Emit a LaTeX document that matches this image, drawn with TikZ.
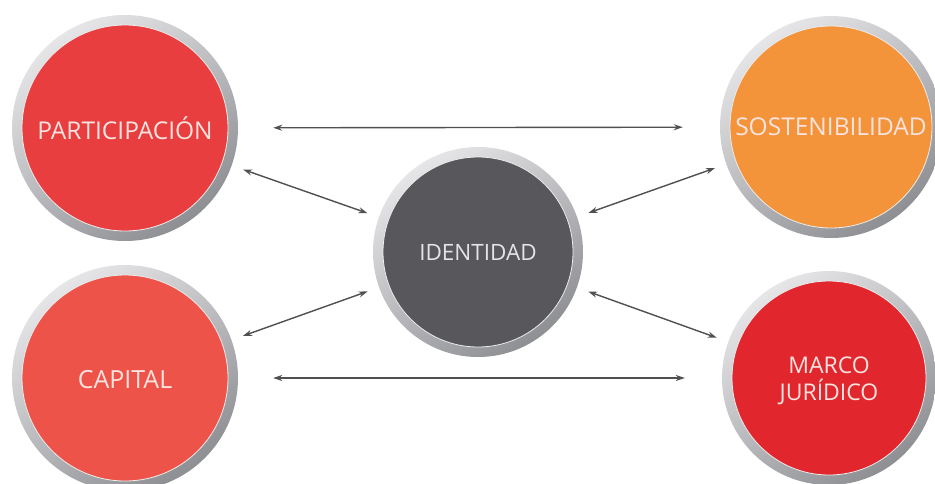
\documentclass[tikz,border=0pt]{standalone}
\usepackage{fontspec}
\newfontfamily\labfont{Open Sans}
\usetikzlibrary{arrows.meta}
\definecolor{cPart}{HTML}{E83E3F}
\definecolor{cCap}{HTML}{EE5349}
\definecolor{cSost}{HTML}{F3933A}
\definecolor{cMarco}{HTML}{E1272D}
\definecolor{cIdent}{HTML}{58585C}
\definecolor{ringlight}{HTML}{E6E6E8}
\definecolor{ringdark}{HTML}{8E8F93}
\definecolor{txtpink}{HTML}{FBE3DF}
\definecolor{txtgray}{HTML}{E4E4E6}
\definecolor{arrowgray}{HTML}{505053}
\begin{document}
\begin{tikzpicture}[x=1pt,y=-1pt,
  ring/.style={circle, inner sep=0pt, draw=none, top color=ringlight, bottom color=ringdark, shading angle=35},
  disc/.style={draw=white!85!gray, line width=0.8pt},
  lab/.style={font=\labfont\fontsize{24.5}{27}\selectfont, align=center, text=txtpink},
  arr/.style={draw=arrowgray, line width=1.4pt, {Stealth[length=9pt,width=6pt]}-{Stealth[length=9pt,width=6pt]}}
]
\useasboundingbox (0,0) rectangle (935,483);
\fill[white] (0,0) rectangle (935,483);

% rings
\node[ring, minimum size=226pt] (P) at (125,128) {};
\node[ring, minimum size=226pt] (C) at (125,378) {};
\node[ring, minimum size=214pt] (M) at (829,378) {};
\node[ring, minimum size=222pt] (S) at (831,127) {};
\node[ring, minimum size=210pt] (I) at (478,252) {};

% inner discs
\fill[cPart, disc] (P.center) circle (103);
\fill[cCap, disc] (C.center) circle (103);
\fill[cSost, disc] (S.center) circle (101);
\fill[cMarco, disc] (M.center) circle (97);
\fill[cIdent, disc] (I.center) circle (95);

% labels
\node[lab] (Pt) at (P.center) {PARTICIPACIÓN};
\node[lab, font=\labfont\fontsize{25}{27}\selectfont] (Ct) at ([yshift=-2pt]C.center) {CAPITAL};
\node[lab] (St) at (S.center) {SOSTENIBILIDAD};
\node[lab, font=\labfont\fontsize{23}{26.5}\selectfont] (Mt) at ([yshift=-3pt]M.center) {MARCO\\JURÍDICO};
\node[lab, text=txtgray, font=\labfont\fontsize{22.5}{25}\selectfont] (It) at (I.center) {IDENTIDAD};

% connectors
\draw[arr, shorten <=35pt, shorten >=37pt] (P) -- (S);
\draw[arr, shorten <=35pt, shorten >=37pt] (C) -- (M);
\draw[arr, shorten <=12pt, shorten >=12pt] (P) -- (I);
\draw[arr, shorten <=12pt, shorten >=12pt] (C) -- (I);
\draw[arr, shorten <=12pt, shorten >=12pt] (S) -- (I);
\draw[arr, shorten <=12pt, shorten >=12pt] (M) -- (I);
\end{tikzpicture}
\end{document}
